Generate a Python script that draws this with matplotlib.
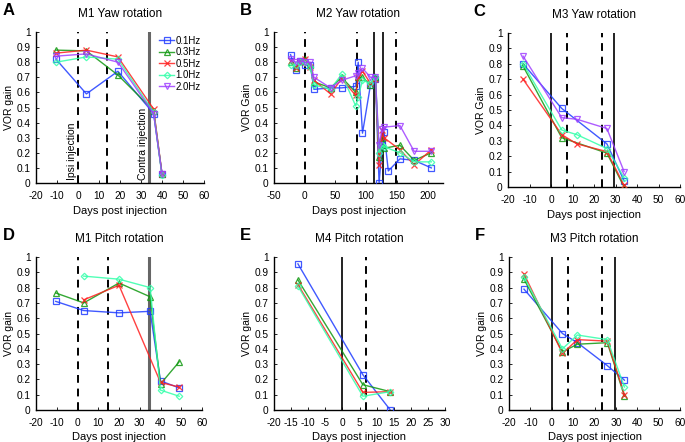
import matplotlib
matplotlib.use("Agg")
import matplotlib.pyplot as plt
import numpy as np

plt.rcParams['font.family'] = ['Liberation Sans', 'DejaVu Sans']

freq_labels = ['0.1Hz', '0.3Hz', '0.5Hz', '1.0Hz', '2.0Hz']
colors = ['#1f3cff', '#119911', '#ff2020', '#33ffaa', '#a040ff']
markers = ['s', '^', 'x', 'D', 'v']

# Panel A: M1 Yaw rotation
A_days = [-10.5, 4, 19, 36, 40]
A_vals = {
    '0.1Hz': [0.82, 0.59, 0.74, 0.46, 0.06],
    '0.3Hz': [0.88, 0.875, 0.715, 0.48, 0.06],
    '0.5Hz': [0.86, 0.88, 0.835, 0.49, 0.06],
    '1.0Hz': [0.80, 0.835, 0.82, 0.47, 0.05],
    '2.0Hz': [0.84, 0.855, 0.80, 0.46, 0.06],
}

# Panel B: M2 Yaw rotation
B_days = [-23, -15, -8, 1, 9, 15, 42, 60, 83, 87, 94, 107, 115, 121, 126, 129, 155, 178, 206]
B_days_blue = [-23, -15, -8, 1, 9, 15, 42, 60, 83, 87, 94, 107, 115, 121, 126, 129, 136, 155, 178, 206]
B_vals = {
    '0.1Hz': [0.85, 0.75, 0.81, 0.78, 0.78, 0.62, 0.63, 0.63, 0.64, 0.80, 0.33, 0.65, 0.69, 0.0, 0.25, 0.34, 0.08, 0.16, 0.15, 0.10],
    '0.3Hz': [0.80, 0.76, 0.81, 0.82, 0.78, 0.67, 0.63, 0.70, 0.60, 0.70, 0.70, 0.65, 0.70, 0.17, 0.30, 0.23, 0.25, 0.15, 0.20],
    '0.5Hz': [0.81, 0.76, 0.80, 0.82, 0.77, 0.68, 0.59, 0.69, 0.58, 0.70, 0.74, 0.66, 0.69, 0.12, 0.35, 0.30, 0.22, 0.12, 0.22],
    '1.0Hz': [0.78, 0.78, 0.80, 0.80, 0.77, 0.65, 0.62, 0.72, 0.51, 0.57, 0.68, 0.66, 0.70, 0.20, 0.25, 0.24, 0.20, 0.14, 0.14],
    '2.0Hz': [0.82, 0.80, 0.81, 0.80, 0.80, 0.70, 0.63, 0.68, 0.71, 0.73, 0.76, 0.70, 0.70, 0.25, 0.36, 0.37, 0.38, 0.21, 0.21],
}

# Panel C: M3 Yaw rotation
C_days = {
    '0.1Hz': [-13, 5, 26, 34],
    '0.3Hz': [-13, 5, 26, 34],
    '0.5Hz': [-13, 5, 12, 26, 34],
    '1.0Hz': [-13, 5, 12, 26, 34],
    '2.0Hz': [-13, 5, 12, 26, 34],
}
C_vals = {
    '0.1Hz': [0.80, 0.51, 0.28, 0.04],
    '0.3Hz': [0.785, 0.32, 0.22, 0.0],
    '0.5Hz': [0.70, 0.34, 0.28, 0.23, 0.01],
    '1.0Hz': [0.80, 0.37, 0.34, 0.25, 0.06],
    '2.0Hz': [0.85, 0.45, 0.44, 0.38, 0.10],
}

# Panel D: M1 Pitch rotation
D_days = {
    '0.1Hz': [-10.5, 3, 20, 35, 40, 49],
    '0.3Hz': [-10.5, 3, 20, 35, 40, 49],
    '0.5Hz': [3, 20, 40, 49],
    '1.0Hz': [3, 20, 35, 40, 49],
}
D_vals = {
    '0.1Hz': [0.71, 0.65, 0.635, 0.645, 0.19, 0.145],
    '0.3Hz': [0.765, 0.70, 0.83, 0.74, 0.17, 0.315],
    '0.5Hz': [0.72, 0.815, 0.18, 0.15],
    '1.0Hz': [0.875, 0.855, 0.80, 0.13, 0.09],
}

# Panel E: M4 Pitch rotation
E_days = [-13, 6, 14]
E_vals = {
    '0.1Hz': [0.955, 0.23, 0.0],
    '0.3Hz': [0.85, 0.165, 0.12],
    '0.5Hz': [0.82, 0.115, 0.12],
    '1.0Hz': [0.81, 0.09, 0.12],
}

# Panel F: M3 Pitch rotation
F_days = [-13, 5, 12, 26, 34]
F_vals = {
    '0.1Hz': [0.79, 0.50, 0.44, 0.29, 0.195],
    '0.3Hz': [0.855, 0.38, 0.43, 0.44, 0.09],
    '0.5Hz': [0.89, 0.37, 0.46, 0.45, 0.10],
    '1.0Hz': [0.87, 0.40, 0.49, 0.46, 0.15],
}

fig = plt.figure(figsize=(6.85, 4.42), dpi=100)

W = 685.0
H = 442.0

def ax_at(x0, x1, ytop, ybot):
    return fig.add_axes([x0 / W, 1 - ybot / H, (x1 - x0) / W, (ybot - ytop) / H])

axA = ax_at(36, 204, 32, 183)
axB = ax_at(274, 443, 32, 183)
axC = ax_at(508, 680, 33, 187)
axD = ax_at(36, 202, 257, 410)
axE = ax_at(274, 445, 257, 410)
axF = ax_at(509, 680, 257, 410)

def style(ax, xlim, xticks, title, ylab, letter):
    ax.set_xlim(*xlim)
    ax.set_ylim(0, 1)
    ax.set_xticks(xticks)
    ax.set_yticks(np.round(np.arange(0, 1.01, 0.1), 1))
    ax.set_yticklabels(['0'] + ['%.1f' % v for v in np.arange(0.1, 0.95, 0.1)] + ['1'])
    ax.set_xticklabels([str(t) for t in xticks])
    ax.tick_params(direction='in', length=2.5, width=0.6, labelsize=7.3)
    ax.tick_params(axis='x', pad=6)
    ax.tick_params(axis='y', pad=4)
    for s in ['top', 'right']:
        ax.spines[s].set_visible(False)
    for s in ['left', 'bottom']:
        ax.spines[s].set_linewidth(1.0)
    ax.set_title(title, fontsize=8.5, pad=11)
    ax.set_ylabel(ylab, fontsize=7.5, labelpad=2)
    ax.set_xlabel('Days post injection', fontsize=8, labelpad=3)
    ax.text(-0.2, 1.14, letter, transform=ax.transAxes, fontsize=12,
            fontweight='bold', ha='left', va='center')

def vline(ax, x, kind):
    if kind == 'dash':
        ax.axvline(x, color='black', lw=1.4, ls=(0, (4, 3)), zorder=1)
    elif kind == 'solid':
        ax.axvline(x, color='#222222', lw=1.4, zorder=1)
    elif kind == 'gray':
        ax.axvline(x, color='#666666', lw=2.2, zorder=1)

def plot_series(ax, days, vals, lab):
    i = freq_labels.index(lab)
    ax.plot(days, vals, color=colors[i], marker=markers[i], ms=4 if markers[i] != 'D' else 3.3,
            mfc='none', mew=0.9, lw=1.0, alpha=0.85, label=lab, zorder=3)

# A
for lab in freq_labels:
    plot_series(axA, A_days, A_vals[lab], lab)
vline(axA, 0, 'dash')
vline(axA, 14, 'dash')
vline(axA, 34, 'gray')
axA.text(-3, 0.02, 'Ipsi injection', rotation=90, fontsize=7.5, ha='center', va='bottom')
axA.text(31, 0.02, 'Contra injection', rotation=90, fontsize=7.5, ha='center', va='bottom')
style(axA, (-20, 60), list(range(-20, 61, 10)), 'M1 Yaw rotation', 'VOR gain', 'A')
leg = axA.legend(loc='upper left', bbox_to_anchor=(0.69, 1.02), frameon=False, fontsize=7,
                 handlelength=1.6, handletextpad=0.1, labelspacing=0.15, borderpad=0.2)

# B
for lab in freq_labels:
    d = B_days_blue if lab == '0.1Hz' else B_days
    plot_series(axB, d, B_vals[lab], lab)
vline(axB, 0, 'dash')
vline(axB, 85, 'dash')
vline(axB, 112, 'solid')
vline(axB, 128, 'solid')
vline(axB, 148, 'dash')
style(axB, (-50, 225), list(range(-50, 201, 50)), 'M2 Yaw rotation', 'VOR Gain', 'B')

# C
for lab in freq_labels:
    plot_series(axC, C_days[lab], C_vals[lab], lab)
vline(axC, 0, 'solid')
vline(axC, 7.5, 'dash')
vline(axC, 23.5, 'dash')
vline(axC, 29.5, 'solid')
style(axC, (-20, 60), list(range(-20, 61, 10)), 'M3 Yaw rotation', 'VOR Gain', 'C')

# D
for lab in ['0.1Hz', '0.3Hz', '0.5Hz', '1.0Hz']:
    plot_series(axD, D_days[lab], D_vals[lab], lab)
vline(axD, 0, 'dash')
vline(axD, 14.5, 'dash')
vline(axD, 34.5, 'gray')
style(axD, (-20, 60), list(range(-20, 61, 10)), 'M1 Pitch rotation', 'VOR gain', 'D')

# E
for lab in ['0.1Hz', '0.3Hz', '0.5Hz', '1.0Hz']:
    plot_series(axE, E_days, E_vals[lab], lab)
vline(axE, 0, 'solid')
vline(axE, 7, 'dash')
style(axE, (-20, 30), list(range(-20, 31, 5)), 'M4 Pitch rotation', 'VOR gain', 'E')

# F
for lab in ['0.1Hz', '0.3Hz', '0.5Hz', '1.0Hz']:
    plot_series(axF, F_days, F_vals[lab], lab)
vline(axF, 0, 'solid')
vline(axF, 7.5, 'dash')
vline(axF, 23.5, 'dash')
vline(axF, 29.5, 'solid')
style(axF, (-20, 60), list(range(-20, 61, 10)), 'M3 Pitch rotation', 'VOR gain', 'F')

fig.savefig('out.png', dpi=100)
